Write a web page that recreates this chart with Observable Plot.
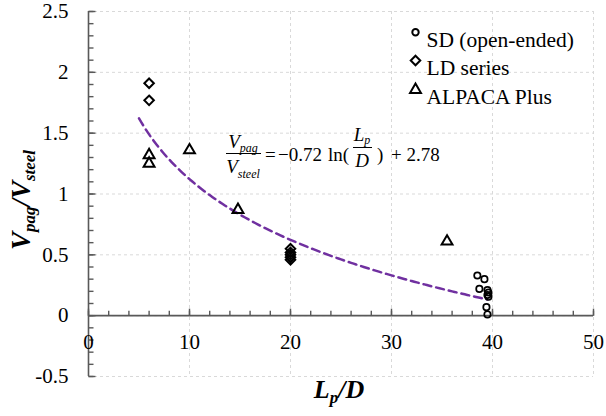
<!DOCTYPE html>
<html><head><meta charset="utf-8">
<script src="https://cdn.jsdelivr.net/npm/d3@7"></script>
<script src="https://cdn.jsdelivr.net/npm/@observablehq/plot@0.6"></script>
<style>html,body{margin:0;padding:0;background:#fff} svg{display:block}</style>
</head><body><div id="chart"></div>
<script>
// ---- data ----
const sdX = [38.5, 39.2, 38.7, 39.5, 39.5, 39.6, 39.4, 39.5, 39.6];
const sdY = [0.33, 0.30, 0.22, 0.21, 0.17, 0.155, 0.07, 0.01, 0.19];
const ldX = [6, 6, 20, 20, 20, 20, 20];
const ldY = [1.91, 1.77, 0.55, 0.52, 0.50, 0.48, 0.46];
const apX = [6, 6, 10, 14.8, 35.5];
const apY = [1.32, 1.25, 1.36, 0.87, 0.61];
const fitA = -0.72, fitB = 2.78;          // Vpag/Vsteel = -0.72 ln(Lp/D) + 2.78
const fitRange = [5, 39.5];
const seriesNames = ["SD (open-ended)", "LD series", "ALPACA Plus"];
const xTickValues = [0, 10, 20, 30, 40, 50];
const xTickLabels = ["0", "10", "20", "30", "40", "50"];
const yTickValues = [-0.5, 0, 0.5, 1, 1.5, 2, 2.5];
const yTickLabels = ["-0.5", "0", "0.5", "1", "1.5", "2", "2.5"];
const xMinorStep = 2, yMinorStep = 0.1;

// ---- derived tables ----
const sd = sdX.map((x, i) => ({x, y: sdY[i]}));
const ld = ldX.map((x, i) => ({x, y: ldY[i]}));
const ap = apX.map((x, i) => ({x, y: apY[i]}));
const fit = d3.range(fitRange[0], fitRange[1] + 1e-9, 0.25).map(x => ({x, y: fitA * Math.log(x) + fitB}));
const xMinor = d3.range(0, 50 + 1e-9, xMinorStep);
const yMinor = d3.range(-0.5, 2.5 + 1e-9, yMinorStep).map(v => Math.round(v * 10) / 10);

const tickUp = len => ({draw(ctx) { ctx.moveTo(0, 0); ctx.lineTo(0, -len); }});
const tickRight = len => ({draw(ctx) { ctx.moveTo(0, 0); ctx.lineTo(len, 0); }});

const axisColor = "#595959", gridColor = "#d9d9d9";
const FONT = "Liberation Serif, Times New Roman, serif";

const legendRows = [
  {symbol: "circle", r: 3.2, sw: 2, dy: 20.7},
  {symbol: "diamond2", r: 4.3, sw: 2, dy: 49},
  {symbol: "triangle2", r: 5.2, sw: 2, dy: 78.3}
];
const legendTextDy = [20.5, 48.5, 77];

const chart = Plot.plot({
  width: 606, height: 416,
  marginLeft: 88, marginRight: 13, marginTop: 11, marginBottom: 40,
  style: {fontFamily: FONT, fontSize: "21px", background: "white", color: "black"},
  x: {domain: [0, 50], axis: null},
  y: {domain: [-0.5, 2.5], axis: null},
  marks: [
    Plot.ruleY(yTickValues, {stroke: gridColor, strokeDasharray: "3,3", strokeWidth: 1}),
    Plot.ruleX(xTickValues.filter(v => v > 0), {stroke: gridColor, strokeDasharray: "3,3", strokeWidth: 1}),
    Plot.line(fit, {x: "x", y: "y", stroke: "#7030A0", strokeWidth: 2.5, strokeDasharray: "8,5"}),
    Plot.ruleX([0], {stroke: axisColor, strokeWidth: 1.6}),
    Plot.ruleY([0], {stroke: axisColor, strokeWidth: 1.6}),
    Plot.dot(xMinor, {x: d => d, y: 0, symbol: tickUp(5), fill: "none", stroke: axisColor, strokeWidth: 1.4}),
    Plot.dot(xTickValues, {x: d => d, y: 0, symbol: tickUp(7), fill: "none", stroke: axisColor, strokeWidth: 1.4}),
    Plot.dot(yMinor, {x: 0, y: d => d, symbol: tickRight(5), fill: "none", stroke: axisColor, strokeWidth: 1.4}),
    Plot.dot(yTickValues, {x: 0, y: d => d, symbol: tickRight(7), fill: "none", stroke: axisColor, strokeWidth: 1.4}),
    Plot.text(yTickValues, {x: 0, y: d => d, text: (d, i) => yTickLabels[i], dx: -20, textAnchor: "end", fill: "black", fontSize: 21, fontFamily: FONT}),
    Plot.text(xTickValues, {x: d => d, y: 0, text: (d, i) => xTickLabels[i], dy: 27, fill: "black", fontSize: 21, fontFamily: FONT}),
    Plot.dot(ld, {x: "x", y: "y", symbol: "diamond2", r: 4.3, stroke: "black", strokeWidth: 2, fill: "none"}),
    Plot.dot(ap, {x: "x", y: "y", symbol: "triangle2", r: 5.2, stroke: "black", strokeWidth: 2, fill: "none"}),
    Plot.dot(sd, {x: "x", y: "y", symbol: "circle", r: 3.2, stroke: "black", strokeWidth: 1.7, fill: "none"}),
    ...legendRows.map(s => Plot.dot([0], {frameAnchor: "top-left", dx: 327, dy: s.dy, symbol: s.symbol, r: s.r, stroke: "black", strokeWidth: s.sw, fill: "none"})),
    ...seriesNames.map((name, i) => Plot.text([name], {frameAnchor: "top-left", dx: 338, dy: legendTextDy[i], text: d => d, textAnchor: "start", fill: "black", fontSize: 21.5, fontFamily: FONT}))
  ]
});
document.getElementById("chart").appendChild(chart);

// ---- titles & equation annotation ----
const svg = d3.select(chart);
function addText(x, y, parts, attrs = {}) {
  const t = svg.append("text").attr("x", x).attr("y", y).attr("fill", "black")
    .attr("text-anchor", "start").attr("font-family", FONT);
  for (const [k, v] of Object.entries(attrs)) t.attr(k, v);
  for (const p of parts) {
    const s = t.append("tspan").text(p.t);
    if (p.size) s.attr("font-size", p.size);
    if (p.dy) s.attr("dy", p.dy);
    if (p.style) s.attr("font-style", p.style);
    if (p.weight) s.attr("font-weight", p.weight);
  }
  return t;
}
// y title
addText(0, 0, [
  {t: "V", size: 27}, {t: "pag", size: 17, dy: 5}, {t: "/", size: 27, dy: -5}, {t: "V", size: 27}, {t: "steel", size: 17, dy: 5}
], {transform: "translate(30,200) rotate(-90)", "text-anchor": "middle", "font-weight": "bold", "font-style": "italic"});
// x title
addText(339, 398, [
  {t: "L", size: 26}, {t: "p", size: 17, dy: 5}, {t: "/", size: 26, dy: -5}, {t: "D", size: 26}
], {"text-anchor": "middle", "font-weight": "bold", "font-style": "italic"});
// equation
const eqSize = 19;
addText(243, 148, [{t: "V", style: "italic", size: eqSize}, {t: "pag", style: "italic", size: 12, dy: 4}], {"text-anchor": "middle"});
svg.append("line").attr("x1", 226).attr("x2", 261).attr("y1", 153.5).attr("y2", 153.5).attr("stroke", "black").attr("stroke-width", 1);
addText(243, 173, [{t: "V", style: "italic", size: eqSize}, {t: "steel", style: "italic", size: 12, dy: 5}], {"text-anchor": "middle"});
addText(265, 161, [{t: "=", size: eqSize}]);
addText(278, 161, [{t: "\u22120.72", size: eqSize}]);
addText(328, 161, [{t: "ln(", size: eqSize}]);
addText(362, 141, [{t: "L", style: "italic", size: eqSize}, {t: "p", style: "italic", size: 12, dy: 3}], {"text-anchor": "middle"});
svg.append("line").attr("x1", 353).attr("x2", 372).attr("y1", 147.5).attr("y2", 147.5).attr("stroke", "black").attr("stroke-width", 1);
addText(362, 167, [{t: "D", style: "italic", size: eqSize}], {"text-anchor": "middle"});
addText(377, 161, [{t: ")", size: eqSize}]);
addText(391, 161, [{t: "+ 2.78", size: eqSize}]);
</script>
</body></html>
